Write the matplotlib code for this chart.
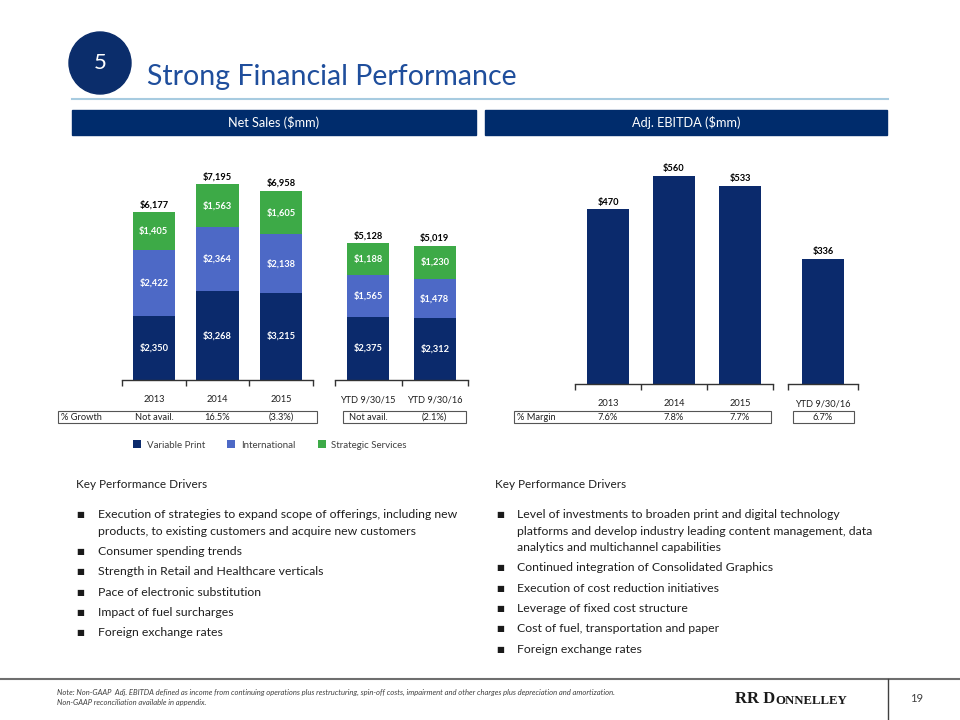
# %%
import numpy as np
import matplotlib.pyplot as plt
from matplotlib import transforms
from matplotlib.patches import Rectangle, Circle

plt.rcParams['font.family'] = ['Lato', 'DejaVu Sans']

# ————————————————data
sales_years = ['2013', '2014', '2015']
variable_print = [2350, 3268, 3215]
international = [2422, 2364, 2138]
strategic = [1405, 1563, 1605]
sales_total = [6177, 7195, 6958]
growth = ['Not avail.', '16.5%', '(3.3%)']

sales_ytd = ['YTD 9/30/15', 'YTD 9/30/16']
variable_print_ytd = [2375, 2312]
international_ytd = [1565, 1478]
strategic_ytd = [1188, 1230]
sales_total_ytd = [5128, 5019]
growth_ytd = ['Not avail.', '(2.1%)']

ebitda_years = ['2013', '2014', '2015']
ebitda = [470, 560, 533]
margin = ['7.6%', '7.8%', '7.7%']

ebitda_ytd_cat = ['YTD 9/30/16']
ebitda_ytd = [336]
margin_ytd = ['6.7%']

series_names = ['Variable Print', 'International', 'Strategic Services']

left_drivers = [
    'Execution of strategies to expand scope of offerings, including new\nproducts, to existing customers and acquire new customers',
    'Consumer spending trends',
    'Strength in Retail and Healthcare verticals',
    'Pace of electronic substitution',
    'Impact of fuel surcharges',
    'Foreign exchange rates',
]
right_drivers = [
    'Level of investments to broaden print and digital technology\nplatforms and develop industry leading content management, data\nanalytics and multichannel capabilities',
    'Continued integration of Consolidated Graphics',
    'Execution of cost reduction initiatives',
    'Leverage of fixed cost structure',
    'Cost of fuel, transportation and paper',
    'Foreign exchange rates',
]

# ————————————————colours
navy = '#0B2A6C'
blue = '#4D69C6'
green = '#3DAA47'
title_blue = '#1F4E9C'
txt = '#1f1f1f'

fig = plt.figure(figsize=(9.6, 7.2), dpi=100)

# background axes in pixel units (y down)
bg = fig.add_axes([0, 0, 1, 1])
bg.set_xlim(0, 960)
bg.set_ylim(720, 0)
bg.axis('off')


def box(x0, x1, y_top, y_bot):
    return [x0 / 960, 1 - y_bot / 720, (x1 - x0) / 960, (y_bot - y_top) / 720]


def style(ax, cats, ytop):
    n = len(cats)
    ax.set_xlim(-0.5, n - 0.5)
    ax.set_ylim(0, ytop)
    ax.patch.set_alpha(0)
    for s in ['left', 'right', 'top']:
        ax.spines[s].set_visible(False)
    ax.spines['bottom'].set_color('#333333')
    ax.spines['bottom'].set_linewidth(1)
    ax.set_yticks([])
    ax.set_xticks(np.arange(n + 1) - 0.5)
    ax.set_xticklabels([])
    ax.tick_params(axis='x', which='major', length=4, width=1, color='#333333')
    ax.set_xticks(np.arange(n), minor=True)
    ax.set_xticklabels(cats, minor=True, fontsize=6.7, color=txt)
    ax.tick_params(axis='x', which='minor', length=0, pad=11)


def money(vals):
    return ['$' + f'{v:,}' for v in vals]


def stacked(ax, cats, layers, totals, width):
    x = np.arange(len(cats))
    bottom = np.zeros(len(cats))
    handles = []
    for vals, col, name in zip(layers, [navy, blue, green], series_names):
        bars = ax.bar(x, vals, width, bottom=bottom, color=col, label=name)
        ax.bar_label(bars, labels=money(vals), label_type='center',
                     color='white', fontsize=6.7, fontweight='bold')
        bottom += np.array(vals)
        handles.append(bars)
    ax.bar_label(bars, labels=money(totals), padding=2,
                 color='black', fontsize=6.7, fontweight='bold')
    return handles


def row(ax, labels, y):
    tr = transforms.blended_transform_factory(ax.transData, bg.transData)
    for i, lab in enumerate(labels):
        ax.text(i, y, lab, transform=tr, ha='center', va='center',
                fontsize=6.7, color=txt)


# ————————————————net sales
ax1 = fig.add_axes(box(122, 313, 160, 380))
handles = stacked(ax1, sales_years, [variable_print, international, strategic], sales_total, 0.67)
style(ax1, sales_years, 220 / 0.0272)
row(ax1, growth, 417.5)

ax2 = fig.add_axes(box(335, 468, 160, 380))
stacked(ax2, sales_ytd, [variable_print_ytd, international_ytd, strategic_ytd], sales_total_ytd, 0.63)
style(ax2, sales_ytd, 220 / 0.02672)
row(ax2, growth_ytd, 417.5)

# ————————————————adj. ebitda
ax3 = fig.add_axes(box(575, 773, 160, 384))
b = ax3.bar(np.arange(len(ebitda_years)), ebitda, 0.65, color=navy)
ax3.bar_label(b, labels=money(ebitda), padding=2, fontsize=6.7, fontweight='bold')
style(ax3, ebitda_years, 224 / 0.3714)
row(ax3, margin, 417.5)

ax4 = fig.add_axes(box(788, 858, 160, 384))
b = ax4.bar(np.arange(len(ebitda_ytd_cat)), ebitda_ytd, 0.61, color=navy)
ax4.bar_label(b, labels=money(ebitda_ytd), padding=2, fontsize=6.7, fontweight='bold')
style(ax4, ebitda_ytd_cat, 224 / 0.3714)
row(ax4, margin_ytd, 417.5)

# ————————————————table boxes
for x0, x1 in [(58, 317), (343, 466), (514, 771), (793, 854)]:
    bg.add_patch(Rectangle((x0, 411), x1 - x0, 12, fill=False, ec='#555555', lw=0.8))
bg.text(61, 417.5, '% Growth', fontsize=6.7, color=txt, va='center')
bg.text(517, 417.5, '% Margin', fontsize=6.7, color=txt, va='center')

# ————————————————legend
fig.legend(handles, series_names, loc='center', bbox_to_anchor=(270 / 960, 1 - 445 / 720),
           ncol=3, frameon=False, fontsize=7, handlelength=0.8, handleheight=0.8,
           handletextpad=0.6, columnspacing=2.3, labelcolor='#404040')

# ————————————————title area
bg.add_patch(Circle((100, 63), 31, color='#0B2D6B'))
bg.text(100, 63, '5', color='white', fontsize=16, ha='center', va='center')
bg.text(147, 85, 'Strong Financial Performance', color=title_blue, fontsize=20.5, va='baseline')
bg.plot([72, 888], [99, 99], color='#A7CBE0', lw=1.5)

for x0, x1, lab in [(72, 476, 'Net Sales ($mm)'), (485, 887, 'Adj. EBITDA ($mm)')]:
    bg.add_patch(Rectangle((x0, 110), x1 - x0, 25, color='#002C6C'))
    bg.text((x0 + x1) / 2, 122.5, lab, color='white', fontsize=9.2, ha='center', va='center')

# ————————————————key performance drivers
for x_head, x_bul, x_txt, items in [(76, 80, 98, left_drivers), (495, 500, 517, right_drivers)]:
    bg.text(x_head, 484, 'Key Performance Drivers', fontsize=8.5, color=txt, va='center')
    y = 515
    for item in items:
        bg.text(x_bul, y, '■', fontsize=6, color='#1a1a1a', ha='center', va='center')
        for line in item.split('\n'):
            bg.text(x_txt, y, line, fontsize=8.8, color=txt, va='center')
            y += 16.3
        y += 4

# ————————————————footer
bg.plot([0, 960], [679, 679], color='#6E6E6E', lw=1.5)
bg.plot([888, 888], [679, 720], color='#404040', lw=1)
bg.text(57, 692, 'Note: Non-GAAP  Adj. EBITDA defined as income from continuing operations plus restructuring, '
        'spin-off costs, impairment and other charges plus depreciation and amortization.',
        fontsize=5.5, style='italic', color='#404040', va='center')
bg.text(57, 702, 'Non-GAAP reconciliation available in appendix.',
        fontsize=5.5, style='italic', color='#404040', va='center')
t1 = bg.text(735, 703, 'RR D', fontsize=12, fontweight='bold', family='Liberation Serif',
             color='#1a1a1a', va='baseline')
bg.annotate('ONNELLEY', xy=(1, 0), xycoords=t1, va='bottom', ha='left', fontsize=9.2,
            fontweight='bold', family='Liberation Serif', color='#1a1a1a')
bg.text(917, 699, '19', fontsize=8, color='#404040', ha='center', va='center')

fig.savefig('out.png', dpi=100)
